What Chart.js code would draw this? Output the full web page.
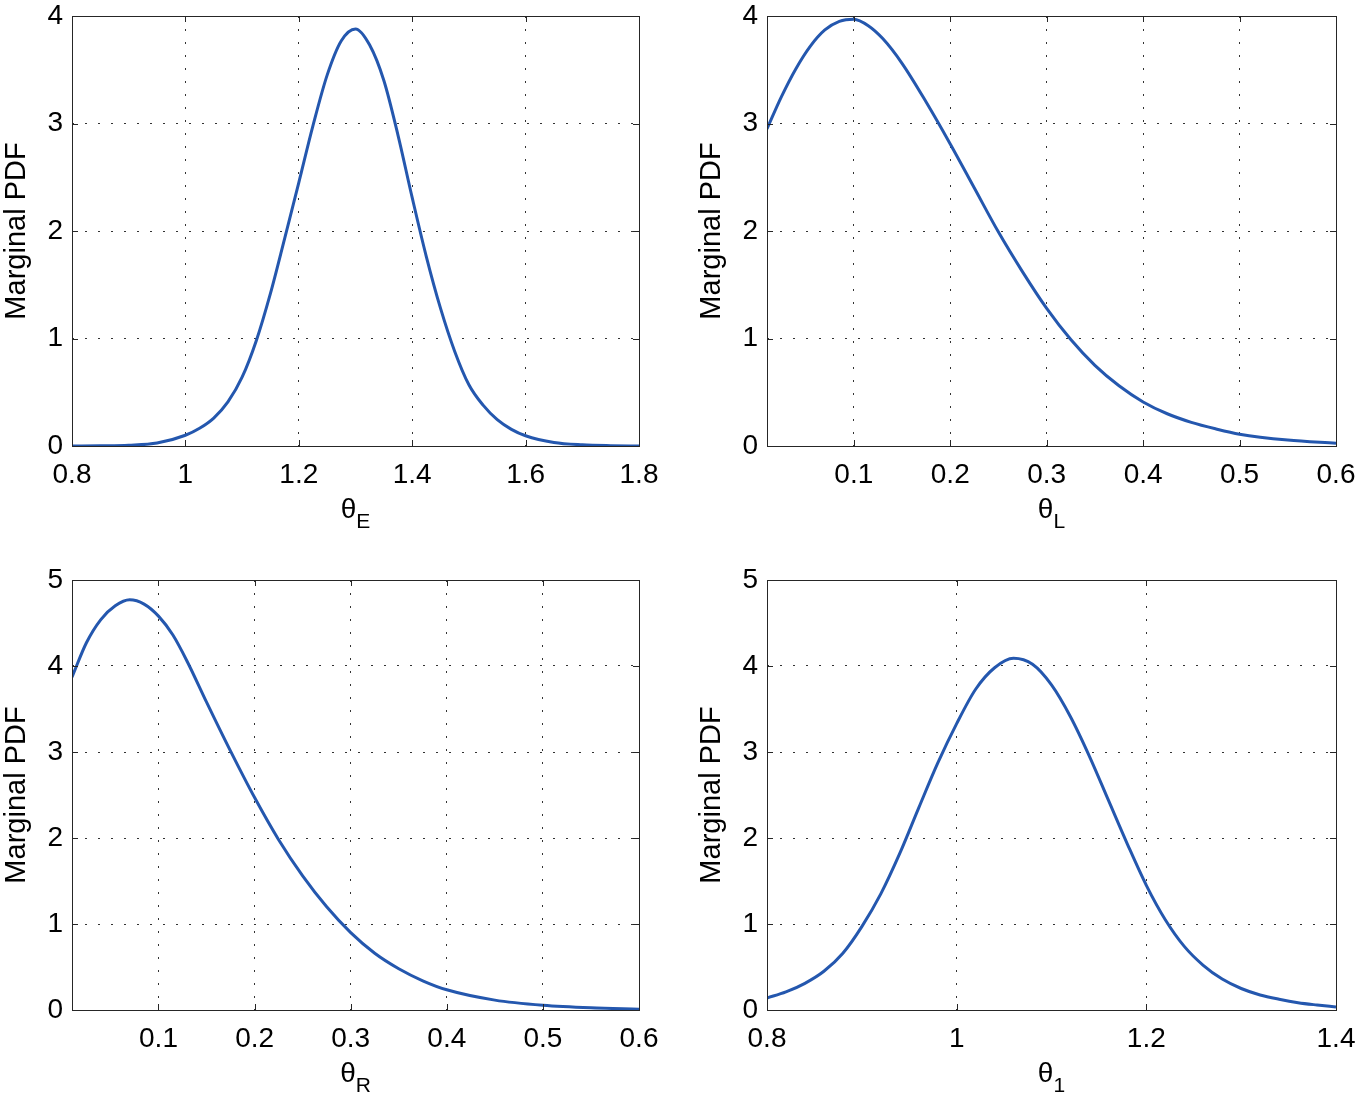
<!DOCTYPE html>
<html>
<head>
<meta charset="utf-8">
<script src="https://cdn.jsdelivr.net/npm/chart.js@4.4.1/dist/chart.umd.min.js"></script>
<style>
  html, body { margin: 0; padding: 0; background: #fff; }
  .panel { position: absolute; width: 680px; height: 549px; }
</style>
</head>
<body>
<div class="panel" style="left:0;top:0"><canvas id="pE" width="680" height="549"></canvas></div>
<div class="panel" style="left:680px;top:0"><canvas id="pL" width="680" height="549"></canvas></div>
<div class="panel" style="left:0;top:549px"><canvas id="pR" width="680" height="549"></canvas></div>
<div class="panel" style="left:680px;top:549px"><canvas id="p1" width="680" height="549"></canvas></div>
<script>
// theta_E
const thetaE = [0.8, 0.85, 0.9, 0.95, 1.0, 1.025, 1.05, 1.075, 1.1, 1.125, 1.15, 1.175, 1.2, 1.225, 1.25, 1.275, 1.3,
  1.325, 1.35, 1.375, 1.4, 1.425, 1.45, 1.475, 1.5, 1.525, 1.55, 1.575, 1.6, 1.65, 1.7, 1.75, 1.8];
const pdfE = [0.0, 0.002, 0.007, 0.027, 0.10, 0.165, 0.26, 0.41, 0.64, 0.98, 1.42, 1.93, 2.45, 2.98, 3.45, 3.77, 3.88,
  3.73, 3.40, 2.89, 2.31, 1.76, 1.28, 0.88, 0.57, 0.38, 0.245, 0.155, 0.095, 0.033, 0.011, 0.003, 0.0];

// theta_L
const thetaL = [0.01, 0.025, 0.04, 0.055, 0.07, 0.085, 0.1, 0.115, 0.13, 0.15, 0.175, 0.2, 0.225, 0.25, 0.275,
  0.3, 0.325, 0.35, 0.375, 0.4, 0.425, 0.45, 0.475, 0.5, 0.55, 0.6];
const pdfL = [2.95, 3.25, 3.51, 3.72, 3.87, 3.95, 3.97, 3.91, 3.79, 3.56, 3.20, 2.81, 2.40, 1.99, 1.62,
  1.28, 0.99, 0.75, 0.56, 0.41, 0.30, 0.22, 0.16, 0.11, 0.055, 0.025];

// theta_R
const thetaR = [0.01, 0.025, 0.04, 0.055, 0.07, 0.085, 0.1, 0.115, 0.13, 0.15, 0.175, 0.2, 0.225, 0.25, 0.275,
  0.3, 0.325, 0.35, 0.375, 0.4, 0.45, 0.5, 0.55, 0.6];
const pdfR = [3.87, 4.27, 4.54, 4.70, 4.77, 4.72, 4.58, 4.36, 4.05, 3.58, 3.01, 2.47, 1.98, 1.56, 1.20,
  0.90, 0.66, 0.48, 0.34, 0.235, 0.115, 0.055, 0.025, 0.01];

// theta_1
const theta1 = [0.8, 0.82, 0.84, 0.86, 0.88, 0.9, 0.92, 0.94, 0.96, 0.98, 1.0, 1.02, 1.04, 1.06, 1.08, 1.1,
  1.12, 1.14, 1.16, 1.18, 1.2, 1.22, 1.24, 1.26, 1.28, 1.3, 1.32, 1.34, 1.36, 1.38, 1.4];
const pdf1 = [0.14, 0.21, 0.31, 0.45, 0.66, 0.97, 1.35, 1.82, 2.35, 2.87, 3.33, 3.73, 3.98, 4.09, 4.02, 3.78,
  3.41, 2.95, 2.44, 1.93, 1.45, 1.05, 0.74, 0.52, 0.36, 0.25, 0.175, 0.125, 0.085, 0.058, 0.035];

// tick labels
const ticksE = [0.8, 1, 1.2, 1.4, 1.6, 1.8];
const ticksLR = [0.1, 0.2, 0.3, 0.4, 0.5, 0.6];
const ticks1 = [0.8, 1, 1.2, 1.4];
const ticksY4 = [0, 1, 2, 3, 4];
const ticksY5 = [0, 1, 2, 3, 4, 5];

const FONT = '"Liberation Sans", Arial, sans-serif';

// box round the plot, inward ticks on all sides, and the theta_x label
const matlabAxes = {
  id: 'matlabAxes',
  afterDraw(chart, args, opts) {
    const {ctx, chartArea: a, scales} = chart;
    ctx.save();
    ctx.strokeStyle = '#262626';
    ctx.lineWidth = 1;
    ctx.beginPath();
    scales.x.ticks.forEach(t => {
      const px = Math.round(scales.x.getPixelForValue(t.value)) + 0.5;
      ctx.moveTo(px, a.bottom); ctx.lineTo(px, a.bottom - 6);
      ctx.moveTo(px, a.top); ctx.lineTo(px, a.top + 6);
    });
    scales.y.ticks.forEach(t => {
      const py = Math.round(scales.y.getPixelForValue(t.value)) + 0.5;
      ctx.moveTo(a.left, py); ctx.lineTo(a.left + 6, py);
      ctx.moveTo(a.right, py); ctx.lineTo(a.right - 6, py);
    });
    ctx.stroke();
    ctx.strokeRect(Math.round(a.left) + 0.5, Math.round(a.top) + 0.5,
      Math.round(a.right - a.left), Math.round(a.bottom - a.top));

    ctx.fillStyle = '#000';
    ctx.textBaseline = 'alphabetic';
    ctx.font = '28px ' + FONT;
    const w1 = ctx.measureText('θ').width;
    ctx.font = '21px ' + FONT;
    const w2 = ctx.measureText(opts.sub).width;
    const x0 = (a.left + a.right) / 2 - (w1 + w2) / 2;
    const base = a.bottom + 72;
    ctx.font = '28px ' + FONT;
    ctx.fillText('θ', x0, base);
    ctx.font = '21px ' + FONT;
    ctx.fillText(opts.sub, x0 + w1, base + 10);
    ctx.restore();
  }
};

const gridOpts = {color: '#333', lineWidth: 1, drawTicks: false};
const borderOpts = {display: false, dash: [2, 11]};

function makePanel(id, xs, ys, xr, xTicks, yMax, yTicks, sub, pad, xHeight) {
  return new Chart(document.getElementById(id), {
    type: 'line',
    data: {
      datasets: [{
        data: xs.map((x, i) => ({x: x, y: ys[i]})),
        borderColor: '#2457ae',
        borderWidth: 3,
        pointRadius: 0,
        cubicInterpolationMode: 'monotone',
        fill: false
      }]
    },
    options: {
      responsive: false,
      animation: false,
      events: [],
      layout: {padding: pad},
      plugins: {
        legend: {display: false},
        tooltip: {enabled: false},
        matlabAxes: {sub: sub}
      },
      scales: {
        x: {
          type: 'linear',
          min: xr[0],
          max: xr[1],
          afterBuildTicks: s => { s.ticks = xTicks.map(v => ({value: v})); },
          afterFit: s => { s.height = xHeight; s.paddingLeft = 0; s.paddingRight = 0; },
          grid: gridOpts,
          border: borderOpts,
          ticks: {
            color: '#000', padding: 12, maxRotation: 0, autoSkip: false,
            font: {family: FONT, size: 28},
            callback: v => String(v)
          }
        },
        y: {
          type: 'linear',
          min: 0,
          max: yMax,
          afterBuildTicks: s => { s.ticks = yTicks.map(v => ({value: v})); },
          afterFit: s => { s.width = 72; s.paddingTop = 0; s.paddingBottom = 0; },
          grid: gridOpts,
          border: borderOpts,
          title: {
            display: true, text: 'Marginal PDF', color: '#000',
            font: {family: FONT, size: 29}, padding: {top: 0, bottom: 0}
          },
          ticks: {
            color: '#000', padding: 9,
            font: {family: FONT, size: 28},
            callback: v => String(v)
          }
        }
      }
    },
    plugins: [matlabAxes]
  });
}

makePanel('pE', thetaE, pdfE, [0.8, 1.8], ticksE, 4, ticksY4, 'E', {left: 0, top: 16, right: 41, bottom: 0}, 103);
makePanel('pL', thetaL, pdfL, [0.01, 0.6], ticksLR, 4, ticksY4, 'L', {left: 15, top: 16, right: 24, bottom: 0}, 103);
makePanel('pR', thetaR, pdfR, [0.01, 0.6], ticksLR, 5, ticksY5, 'R', {left: 0, top: 31, right: 41, bottom: 0}, 88);
makePanel('p1', theta1, pdf1, [0.8, 1.4], ticks1, 5, ticksY5, '1', {left: 15, top: 31, right: 24, bottom: 0}, 88);
</script>
</body>
</html>
